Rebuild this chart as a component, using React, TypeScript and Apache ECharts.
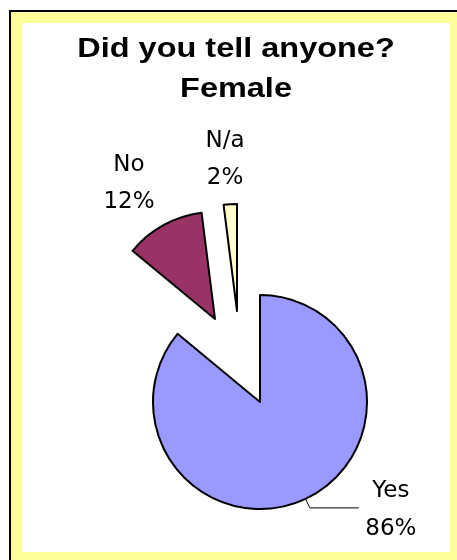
import { useEffect, useRef } from 'react';
import * as echarts from 'echarts';

const categories = ['Yes', 'No', 'N/a'];
const values = [86, 12, 2];
const sliceColors = ['#9999FF', '#993366', '#FFFFCC'];
const titleLines = ['Did you tell anyone?', 'Female'];

// Each slice lives in its own pie series so the pulled-out slices can sit apart.
const sliceCenters = [
  [260, 402],
  [215, 319],
  [237, 311],
];
// Fixed label spots for the two pulled-out slices (the big slice uses a leader line).
const labelSpots: (number[] | null)[] = [null, [129, 181], [225, 157]];

const labelFont = 'DejaVu Sans';

export default function App() {
  const ref = useRef<HTMLDivElement>(null);

  useEffect(() => {
    const chart = echarts.init(ref.current!, null, { renderer: 'svg' });

    const series = categories.map((name, i) => {
      const spot = labelSpots[i];
      return {
        type: 'pie',
        name,
        center: sliceCenters[i],
        radius: 107,
        startAngle: 90,
        clockwise: true,
        silent: true,
        avoidLabelOverlap: false,
        emphasis: { disabled: true },
        data: categories.map((c, j) => ({
          name: c,
          value: values[j],
          itemStyle:
            j === i
              ? { color: sliceColors[j], borderColor: '#000', borderWidth: 2 }
              : { color: 'transparent', borderWidth: 0 },
          label: { show: j === i },
          labelLine: { show: j === i && !spot },
        })),
        label: spot
          ? {
              position: 'outside',
              formatter: (p: any) => `${p.name}\n${p.percent}%`,
              color: '#000',
              fontFamily: labelFont,
              fontSize: 23,
              lineHeight: 37,
              align: 'center',
            }
          : {
              position: 'outside',
              formatter: (p: any) => `{t|${p.name}}\n{t|${p.percent}%}`,
              distanceToLabelLine: 5,
              rich: {
                t: {
                  color: '#000',
                  fontFamily: labelFont,
                  fontSize: 23,
                  lineHeight: 38,
                  width: 54,
                  align: 'center',
                },
              },
            },
        labelLine: {
          length: 10,
          length2: 49,
          lineStyle: { color: '#000', width: 1 },
        },
        labelLayout: spot
          ? { x: spot[0], y: spot[1], align: 'center', verticalAlign: 'middle' }
          : undefined,
      };
    });

    chart.setOption({
      animation: false,
      graphic: [
        {
          type: 'rect',
          z: -10,
          silent: true,
          shape: { x: 10, y: 11, width: 470, height: 570 },
          style: { fill: '#FFFF99', stroke: '#000', lineWidth: 2 },
        },
        {
          type: 'rect',
          z: -9,
          silent: true,
          shape: { x: 22, y: 23, width: 428, height: 529 },
          style: { fill: '#FFFFFF' },
        },
        {
          type: 'text',
          x: 236,
          y: 27,
          scaleX: 1.16,
          silent: true,
          style: {
            text: titleLines.join('\n'),
            fontFamily: 'Liberation Sans',
            fontWeight: 'bold',
            fontSize: 28,
            lineHeight: 40,
            fill: '#000',
            align: 'center',
            verticalAlign: 'top',
          },
        },
      ],
      series,
    });

    return () => chart.dispose();
  }, []);

  return (
    <div
      ref={ref}
      style={{ position: 'fixed', left: 0, top: 0, width: 457, height: 560 }}
    />
  );
}
